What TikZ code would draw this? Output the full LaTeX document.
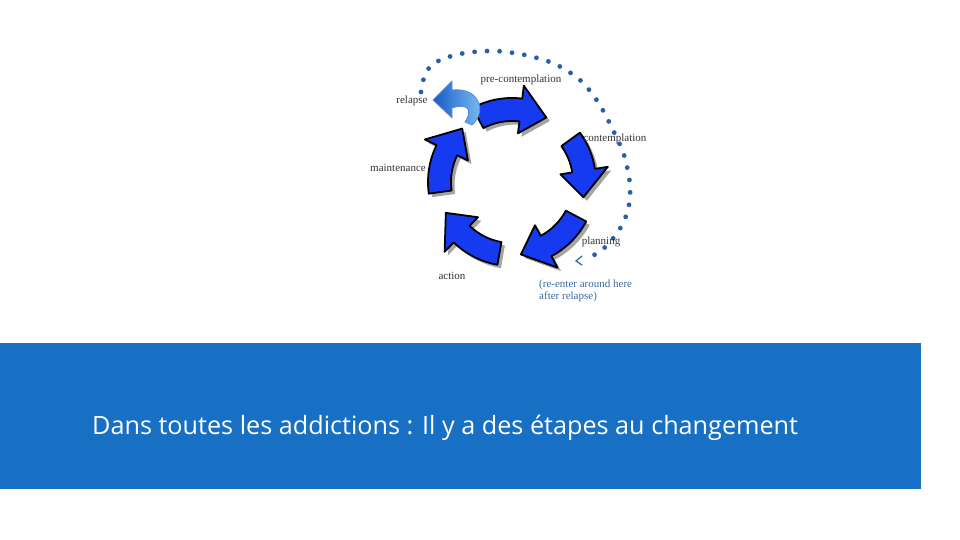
\documentclass[tikz,border=0pt]{standalone}
\usepackage{fontspec}
\setmainfont{Liberation Serif}
\newfontfamily\slidefont{Open Sans}
\usepackage{tikz}
\usepackage{xcolor}

\definecolor{bandblue}{RGB}{23,112,196}
\definecolor{stageblue}{RGB}{22,58,240}
\definecolor{dotblue}{RGB}{40,95,170}
\definecolor{noteblue}{RGB}{60,105,160}
\definecolor{relapsedark}{RGB}{25,90,200}
\definecolor{relapselight}{RGB}{130,200,245}

\tikzset{
  stagearrow/.style={fill=stageblue, draw=black, line width=1.8pt, line join=round,
    preaction={fill=black!65, opacity=0.55, transform canvas={shift={(3.5pt,-3.5pt)}}}},
  stagelabel/.style={font=\fontsize{11}{12.5}\selectfont, text=black!80, inner sep=0pt},
}

\begin{document}
\begin{tikzpicture}[x=1pt, y=1pt]
        \useasboundingbox (0,0) rectangle (960,540);

        % Title band
        \fill[bandblue] (0,51) rectangle (921,197);
        \node[anchor=base west, inner sep=0pt, text=white,
              font=\slidefont\fontsize{25.2}{29}\selectfont] (title) at (92,105)
              {Dans toutes les addictions : Il y a des étapes au changement};

        % Dotted return path
        \draw[dotblue, line width=4.8pt, line cap=round, dash pattern=on 0pt off 12.5pt]
            plot[smooth] coordinates {(421,448) (426,468) (440,480) (465,487) (495,489)
            (525,485) (555,476) (580,460) (598,438) (612,412) (624,385) (630,355)
            (628,330) (618,308) (602,290) (588,282)};
        \draw[dotblue, line width=1.2pt, line cap=round] (582,284) -- (576,279) -- (582,275);

        % Stage arrows
        \begin{scope}[shift={(512,358)}]
        \path[stagearrow] (118:84pt) arc[start angle=118, end angle=83, radius=84pt]
            -- (83:97pt) -- (62:73pt) -- (83:49pt) -- (83:61pt)
            arc[start angle=83, end angle=118, radius=61pt] -- cycle;
        \path[stagearrow] (36:84pt) arc[start angle=36, end angle=9, radius=84pt]
            -- (9:97pt) -- (-12:73pt) -- (9:49pt) -- (9:61pt)
            arc[start angle=9, end angle=36, radius=61pt] -- cycle;
        \path[stagearrow] (-28:84pt) arc[start angle=-28, end angle=-62, radius=84pt]
            -- (-62:97pt) -- (-83:73pt) -- (-62:49pt) -- (-62:61pt)
            arc[start angle=-62, end angle=-28, radius=61pt] -- cycle;
        \path[stagearrow] (-100:84pt) arc[start angle=-100, end angle=-134, radius=84pt]
            -- (-134:97pt) -- (-155:73pt) -- (-134:49pt) -- (-134:61pt)
            arc[start angle=-134, end angle=-100, radius=61pt] -- cycle;
        \path[stagearrow] (-172:84pt) arc[start angle=-172, end angle=-206, radius=84pt]
            -- (-206:97pt) -- (-227:73pt) -- (-206:49pt) -- (-206:61pt)
            arc[start angle=-206, end angle=-172, radius=61pt] -- cycle;
        \end{scope}

        % Relapse arrow
        \path[left color=relapsedark, right color=relapselight, draw=relapsedark!70!white,
              line width=0.8pt, line join=round]
            (433,440) -- (452,459) -- (452,450) .. controls (480,453) and (487,428) .. (472,415)
            -- (465,418) .. controls (473,430) and (468,437) .. (452,432) -- (452,422) -- cycle;

        % Stage labels
        \node[stagelabel] (precont) at (521,460) {pre-contemplation};
        \node[stagelabel] (relapse) at (412,439) {relapse};
        \node[stagelabel] (cont) at (615,401) {contemplation};
        \node[stagelabel] (maint) at (398,372) {maintenance};
        \node[stagelabel] (plan) at (601,298) {planning};
        \node[stagelabel] (act) at (452,264) {action};
        \node[stagelabel, text=noteblue, anchor=west, align=left] (reenter) at (539,249)
              {(re-enter around here\\after relapse)};
\end{tikzpicture}
\end{document}
